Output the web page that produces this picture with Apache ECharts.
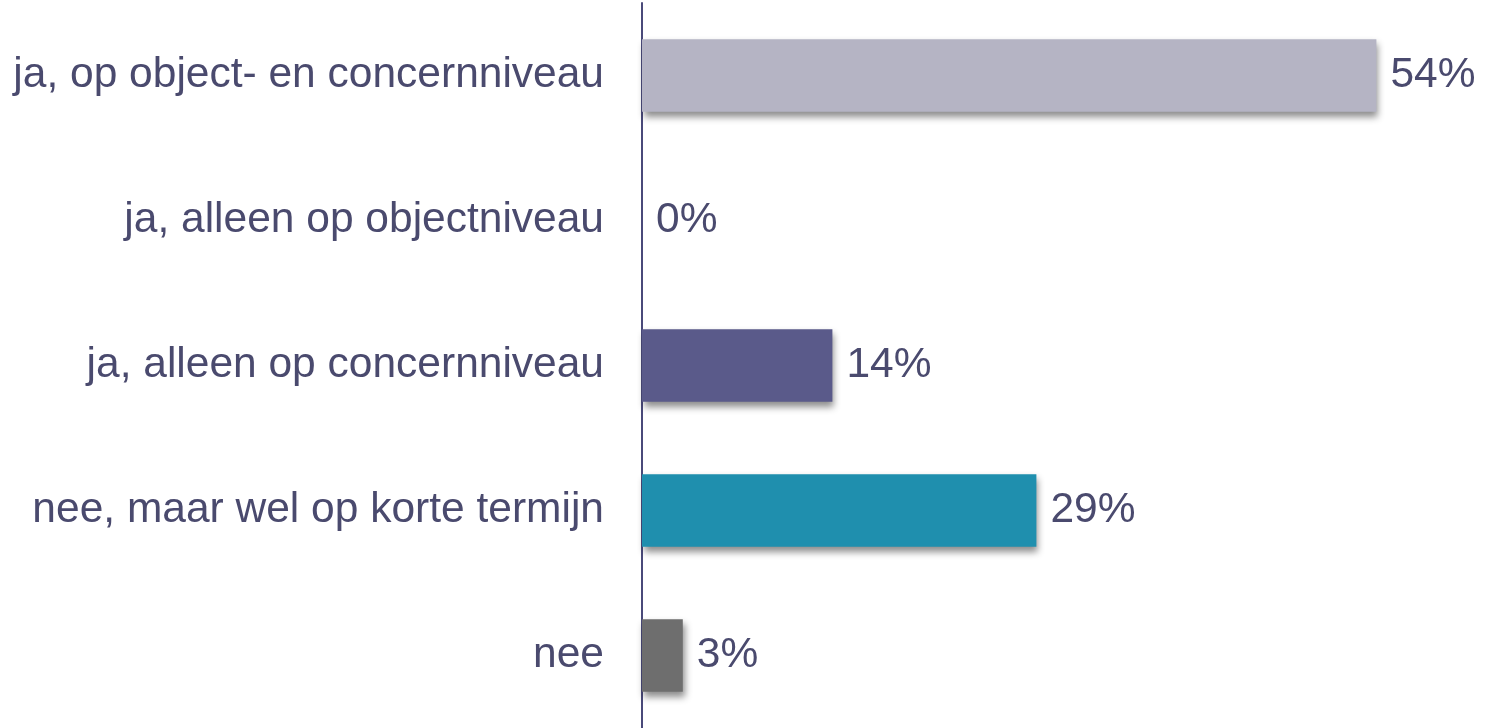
<!DOCTYPE html>
<html>
<head>
<meta charset="utf-8">
<script src="https://cdn.jsdelivr.net/npm/echarts@6/dist/echarts.min.js"></script>
<style>
  html, body { margin: 0; padding: 0; background: #fff; }
  #chart { width: 1489px; height: 728px; }
</style>
</head>
<body>
<div id="chart"></div>
<script>
// categorieën en percentages
const categories = [
  'ja, op object- en concernniveau',
  'ja, alleen op objectniveau',
  'ja, alleen op concernniveau',
  'nee, maar wel op korte termijn',
  'nee'
];
const values = [54, 0, 14, 29, 3];
const barColors = ['#b5b4c4', '#b5b4c4', '#5a5a8a', '#1f8fae', '#6e6e6e'];

const textColor = '#4a4a6e';

let myChart = echarts.init(document.getElementById('chart'));
let option = {
  animation: false,
  grid: {
    left: 642,
    right: 31,
    top: 3,
    bottom: 0
  },
  xAxis: {
    type: 'value',
    min: 0,
    max: 60,
    show: false
  },
  yAxis: {
    type: 'category',
    inverse: true,
    data: categories,
    axisLine: { show: true, lineStyle: { color: '#4a4a7a', width: 2 } },
    axisTick: { show: false },
    axisLabel: {
      color: textColor,
      fontFamily: 'Liberation Sans, Arial, sans-serif',
      fontSize: 42.5,
      margin: 38,
      padding: [6, 0, 0, 0]
    }
  },
  series: [
    {
      type: 'bar',
      barWidth: '50%',
      data: values.map((v, i) => ({
        value: v,
        itemStyle: {
          color: barColors[i],
          shadowColor: 'rgba(0,0,0,0.45)',
          shadowBlur: 7,
          shadowOffsetX: 2,
          shadowOffsetY: 5
        }
      })),
      label: {
        show: true,
        position: 'right',
        distance: 14,
        formatter: '{c}%',
        color: textColor,
        fontFamily: 'Liberation Sans, Arial, sans-serif',
        fontSize: 42.5,
        padding: [6, 0, 0, 0]
      }
    }
  ]
};

// grafiek tekenen
myChart.setOption(option);
</script>
</body>
</html>
